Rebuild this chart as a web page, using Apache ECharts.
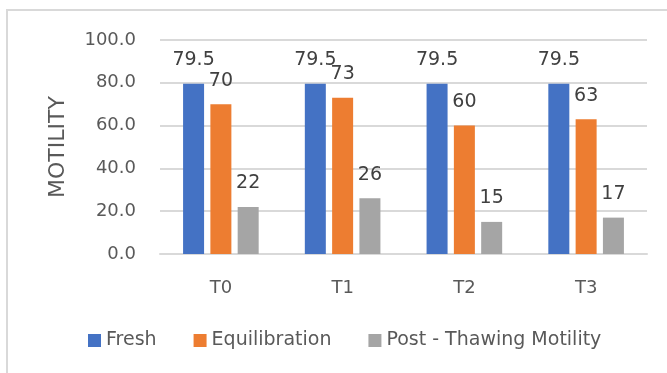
<!DOCTYPE html>
<html>
<head>
<meta charset="utf-8">
<script src="https://cdn.jsdelivr.net/npm/echarts@6/dist/echarts.min.js"></script>
<style>
  html, body { margin: 0; padding: 0; background: #fff; }
  #chart { width: 667px; height: 373px; }
</style>
</head>
<body>
<div id="chart"></div>
<script>
// Sperm motility at each time point
const categories = ['T0', 'T1', 'T2', 'T3'];
const fresh = [79.5, 79.5, 79.5, 79.5];
const equilibration = [70, 73, 60, 63];
const postThawing = [22, 26, 15, 17];
const yTicks = { min: 0, max: 100, interval: 20 };

const FONT = '"DejaVu Sans", sans-serif';
const labelStyle = {
  show: true,
  position: 'top',
  distance: 14,
  fontFamily: FONT,
  fontSize: 19,
  color: '#404040'
};

function barSeries(name, data, color) {
  return {
    name: name,
    type: 'bar',
    data: data,
    barWidth: 21,
    barGap: '30%',
    itemStyle: { color: color },
    label: labelStyle
  };
}

const chart = echarts.init(document.getElementById('chart'), null, { renderer: 'canvas' });
chart.setOption({
  animation: false,
  backgroundColor: '#fff',
  graphic: [{
    type: 'rect',
    shape: { x: 7, y: 10, width: 700, height: 400 },
    style: { fill: 'none', stroke: '#d9d9d9', lineWidth: 2 },
    silent: true
  }],
  grid: { left: 160, right: 20, top: 40, bottom: 119 },
  legend: {
    left: 83,
    top: 326,
    itemWidth: 13,
    itemHeight: 13,
    itemGap: 37,
    icon: 'rect',
    textStyle: { fontFamily: FONT, fontSize: 19, color: '#595959' },
    data: ['Fresh', 'Equilibration', 'Post - Thawing Motility']
  },
  xAxis: {
    type: 'category',
    data: categories,
    axisLine: { show: true, lineStyle: { color: '#d9d9d9', width: 2 } },
    axisTick: { show: false },
    axisLabel: { fontFamily: FONT, fontSize: 18, color: '#595959', margin: 25 }
  },
  yAxis: {
    type: 'value',
    min: yTicks.min,
    max: yTicks.max,
    interval: yTicks.interval,
    name: 'MOTILITY',
    nameLocation: 'middle',
    nameGap: 91,
    nameTextStyle: { fontFamily: FONT, fontSize: 22, color: '#595959' },
    axisLine: { show: false },
    axisTick: { show: false },
    splitLine: { lineStyle: { color: '#d9d9d9', width: 2 } },
    axisLabel: {
      fontFamily: FONT, fontSize: 18, color: '#595959', margin: 24,
      formatter: v => v.toFixed(1)
    }
  },
  series: [
    barSeries('Fresh', fresh, '#4472C4'),
    barSeries('Equilibration', equilibration, '#ED7D31'),
    barSeries('Post - Thawing Motility', postThawing, '#A5A5A5')
  ]
});
</script>
</body>
</html>
